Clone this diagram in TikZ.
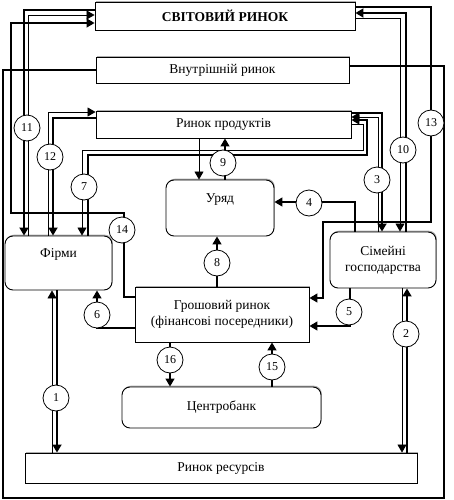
\documentclass[tikz,border=0pt]{standalone}
\usepackage{fontspec}
\setmainfont{Liberation Serif}
\usetikzlibrary{arrows.meta,calc,shadows}
\begin{document}
\begin{tikzpicture}[x=1pt,y=-1pt,
  box/.style={draw,fill=white,line width=0.9pt,inner sep=0pt,
    drop shadow={shadow xshift=0.8pt,shadow yshift=1.3pt,fill=black!45,opacity=0.7}},
  rbox/.style={box,rounded corners=8pt},
  num/.style={circle,draw,line width=0.8pt,fill=white,minimum size=26pt,inner sep=0pt,font=\fontsize{12}{12}\selectfont},
  txt/.style={font=\fontsize{13.5}{16}\selectfont,align=center},
  thinl/.style={line width=0.7pt},
  thickl/.style={line width=1.8pt},
  midl/.style={line width=1.3pt},
  arr/.style={-{Triangle[length=8pt,width=9pt]}},
]
\useasboundingbox (0,0) rectangle (453,500);
% boxes
\node[box,minimum width=260pt,minimum height=28pt,font=\bfseries\fontsize{13.5}{15}\selectfont] (svit) at (225,16) {СВІТОВИЙ РИНОК};
\node[box,txt,minimum width=253pt,minimum height=26pt] (vnutr) at (222.5,70) {Внутрішній ринок};
\node[box,txt,minimum width=255pt,minimum height=27pt] (prod) at (223.5,124.5) {Ринок продуктів};
\node[rbox,minimum width=108pt,minimum height=56pt] (uriad) at (220,208) {};
\node[txt] (uriadt) at (220,200) {Уряд};
\node[rbox,minimum width=107pt,minimum height=54pt] (firmy) at (58.5,263) {};
\node[txt] (firmyt) at (58.5,254) {Фірми};
\node[rbox,txt,minimum width=106pt,minimum height=56pt] (sim) at (383,260) {Сімейні\\господарства};
\node[box,txt,minimum width=174pt,minimum height=55pt] (grosh) at (222,314.5) {Грошовий ринок\\(фінансові посередники)};
\node[rbox,txt,minimum width=199pt,minimum height=41pt] (bank) at (221.5,407.5) {Центробанк};
\node[box,txt,minimum width=392pt,minimum height=30pt] (res) at (221,468) {Ринок ресурсів};
% outer frame
\draw[line width=1.3pt] (vnutr.west) -- (3,70) -- (3,498) -- (444,498) -- (444,66) -- (vnutr.east |- 0,66);
% 1
\draw[thinl,arr] (52,0 |- res.north) -- (52,0 |- firmy.south);
\draw[thickl,arr] (57,0 |- firmy.south) -- (57,0 |- res.north);
% 2
\draw[thinl,arr] (402,0 |- sim.south) -- (402,0 |- res.north);
\draw[thickl,arr] (407,0 |- res.north) -- (407,0 |- sim.south);
% 3
\draw[thickl,arr] (prod.east |- 0,113) -- (382,113) -- (382,0 |- sim.north);
\draw[thinl,arr] (378,0 |- sim.north) -- (378,117) -- (prod.east |- 0,117);
% 7
\draw[thinl,arr] (prod.east |- 0,124) -- (363,124) -- (363,150) -- (82,150) -- (82,0 |- firmy.north);
\draw[thickl,arr] (88,0 |- firmy.north) -- (88,155) -- (367,155) -- (367,120) -- (prod.east |- 0,120);
% 9
\draw[thinl,arr] (199,0 |- prod.south) -- (199,0 |- uriad.north);
\draw[midl,arr] (225,0 |- uriad.north) -- (225,0 |- prod.south);
% 10
\draw[thickl,arr] (406,0 |- sim.north) -- (406,13) -- (svit.east |- 0,13);
\draw[thinl,arr] (svit.east |- 0,18) -- (400,18) -- (400,0 |- sim.north);
% 11
\draw[thinl,arr] (28,0 |- firmy.north) -- (28,15) -- (svit.west |- 0,15);
\draw[thickl,arr] (svit.west |- 0,10) -- (24,10) -- (24,0 |- firmy.north);
% 12
\draw[thinl,arr] (48,0 |- firmy.north) -- (48,112) -- (prod.west |- 0,112);
\draw[thickl,arr] (prod.west |- 0,118) -- (53,118) -- (53,0 |- firmy.north);
% 13
\draw[midl,arr] (svit.east |- 0,7) -- (431,7) -- (431,222) -- (323,222) -- (323,298) -- (grosh.east |- 0,298);
% 14
\draw[midl,arr] (grosh.west |- 0,297) -- (124,297) -- (124,213) -- (11,213) -- (11,23) -- (svit.west |- 0,23);
% 4
\draw[midl,arr] (355,0 |- sim.north) -- (355,202) -- (uriad.east |- 0,202);
% 5
\draw[midl,arr] (350,0 |- sim.south) -- (350,326) -- (grosh.east |- 0,326);
% 6
\draw[midl,arr] (grosh.west |- 0,328) -- (97,328) -- (97,0 |- firmy.south);
% 8
\draw[midl,arr] (217,0 |- grosh.north) -- (217,0 |- uriad.south);
% 15
\draw[midl,arr] (272,0 |- bank.north) -- (272,0 |- grosh.south);
% 16
\draw[midl,arr] (170,0 |- grosh.south) -- (170,0 |- bank.north);
% circles
\node[num] (c1) at (56,398) {1};
\node[num] (c2) at (406,334) {2};
\node[num] (c3) at (377,180) {3};
\node[num] (c4) at (309,203) {4};
\node[num] (c5) at (349,312) {5};
\node[num] (c6) at (97,315) {6};
\node[num] (c7) at (84,187) {7};
\node[num] (c8) at (217,263) {8};
\node[num] (c9) at (223,163) {9};
\node[num] (c10) at (403,150) {10};
\node[num] (c11) at (27,128) {11};
\node[num] (c12) at (50,157) {12};
\node[num] (c13) at (431,123) {13};
\node[num] (c14) at (122,230) {14};
\node[num] (c15) at (272,367) {15};
\node[num] (c16) at (170,360) {16};
\end{tikzpicture}
\end{document}
